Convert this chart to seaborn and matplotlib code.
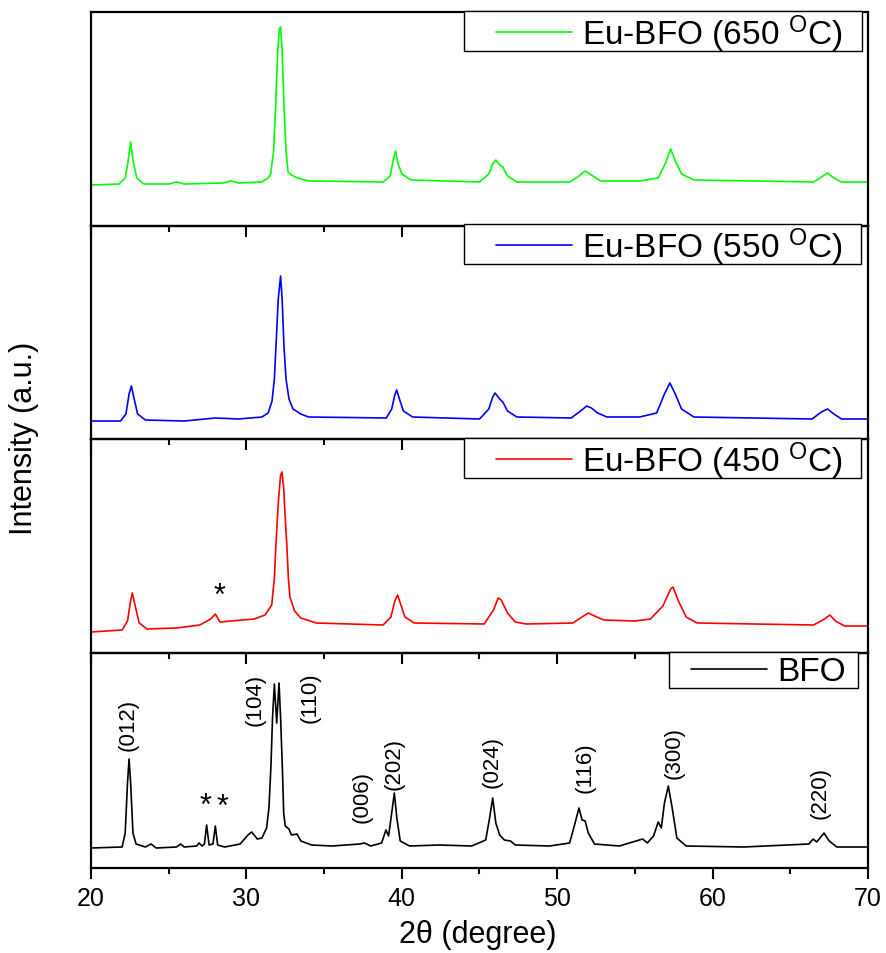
import matplotlib
matplotlib.use("Agg")
import matplotlib.pyplot as plt
import numpy as np
import pandas as pd
import seaborn as sns
from matplotlib.patches import Rectangle
from matplotlib.ticker import MultipleLocator, NullLocator

# ---------------- data (arbitrary intensity units) ----------------
x_650 = [20.0, 21.8, 22.2, 22.38, 22.55, 22.72, 22.95, 23.4, 25.0, 25.5, 26.0, 28.5, 29.0, 29.5,
         31.0, 31.4, 31.56, 31.75, 31.88, 32.0, 32.12, 32.2, 32.3, 32.42, 32.55, 32.68, 32.9,
         33.3, 34.0, 38.8, 39.25, 39.45, 39.6, 39.75, 40.0, 40.6, 45.0, 45.6, 45.85, 46.05, 46.3,
         46.5, 46.8, 47.4, 50.8, 51.4, 51.8, 52.2, 52.8, 55.3, 56.5, 57.0, 57.3, 57.6, 58.0, 58.8,
         66.5, 67.0, 67.4, 67.8, 68.3, 70.0]
y_650 = [41, 42, 48, 64, 84, 64, 48, 42, 42, 44, 42, 43, 45, 43,
         44, 48, 52, 75, 120, 170, 197, 199, 175, 120, 75, 54, 51,
         48, 45, 44, 50, 66, 75, 63, 52, 46, 44, 52, 62, 66, 61,
         59, 50, 44, 44, 50, 55, 51, 45, 45, 48, 64, 77, 65, 52, 46,
         44, 49, 53, 48, 44, 44]

x_550 = [20.0, 21.9, 22.25, 22.45, 22.6, 22.75, 23.0, 23.5, 26.0, 28.0, 29.5, 31.0, 31.4, 31.65,
         31.8, 31.9, 32.05, 32.2, 32.3, 32.42, 32.55, 32.74, 33.0, 33.5, 34.0, 39.0, 39.35, 39.55,
         39.67, 39.85, 40.1, 40.7, 45.0, 45.6, 45.85, 46.0, 46.3, 46.5, 46.8, 47.4, 50.9, 51.5,
         51.9, 52.2, 52.6, 53.2, 55.3, 56.4, 56.9, 57.25, 57.6, 58.0, 58.8, 66.4, 67.0, 67.4,
         67.8, 68.3, 70.0]
y_550 = [18, 18, 25, 45, 53, 42, 25, 19, 18, 21, 20, 22, 26, 38,
         60, 92, 140, 163, 140, 92, 60, 40, 30, 25, 22, 21, 30, 44,
         49, 40, 28, 22, 20, 30, 42, 46, 40, 37, 28, 22, 21, 28,
         33, 31, 26, 22, 22, 26, 45, 56, 45, 30, 22, 20, 27, 30,
         25, 20, 20]

x_450 = [20.0, 22.0, 22.35, 22.55, 22.66, 22.8, 23.1, 23.6, 25.5, 27.0, 27.7, 28.0, 28.3, 29.0,
         30.5, 31.2, 31.63, 31.8, 31.9, 32.05, 32.2, 32.29, 32.4, 32.5, 32.6, 32.7, 32.8, 33.1,
         33.5, 34.5, 38.8, 39.3, 39.55, 39.73, 39.9, 40.2, 40.8, 45.3, 45.9, 46.2, 46.4, 46.8,
         47.3, 48.0, 51.0, 51.7, 52.0, 52.4, 53.0, 55.0, 56.0, 56.8, 57.3, 57.45, 57.8, 58.3,
         59.0, 66.5, 67.2, 67.55, 67.9, 68.5, 70.0]
y_450 = [21, 23, 32, 52, 60, 50, 30, 24, 25, 28, 34, 39, 31, 32,
         34, 38, 48, 75, 108, 150, 178, 181, 165, 135, 108, 75, 56, 42,
         35, 30, 28, 36, 52, 58, 50, 36, 30, 29, 43, 55, 53, 40,
         31, 29, 30, 37, 40, 37, 33, 32, 34, 47, 64, 66, 52, 36,
         30, 28, 34, 38, 32, 27, 27]

x_bfo = [20.0, 22.0, 22.2, 22.35, 22.45, 22.55, 22.7, 22.9, 23.5, 23.86, 24.2, 25.5, 25.77, 26.0,
         26.8, 26.95, 27.15, 27.3, 27.44, 27.6, 27.85, 28.0, 28.15, 28.6, 29.6, 30.1, 30.34, 30.7,
         31.0, 31.3, 31.45, 31.58, 31.68, 31.8, 31.95, 32.1, 32.2, 32.31, 32.4, 32.5, 32.74, 32.9,
         33.26, 33.5, 34.2, 35.5, 37.3, 37.6, 38.0, 38.7, 38.98, 39.15, 39.35, 39.52, 39.68, 39.9,
         40.5, 42.4, 44.5, 45.4, 45.65, 45.85, 46.05, 46.3, 46.6, 47.0, 47.3, 49.5, 50.8, 51.15,
         51.4, 51.6, 51.8, 52.0, 52.4, 54.0, 55.5, 55.8, 56.2, 56.5, 56.7, 56.9, 57.15, 57.4,
         57.7, 58.3, 62.0, 66.2, 66.47, 66.7, 67.17, 67.5, 68.0, 70.0]
y_bfo = [20, 21, 35, 85, 109, 85, 35, 24, 21, 24, 20, 21, 24, 21,
         22, 25, 22, 24, 43, 23, 24, 42, 23, 21, 24, 33, 36, 29,
         30, 40, 60, 102, 150, 184, 145, 185, 150, 102, 55, 42, 39, 33,
         34, 27, 23, 22, 24, 25, 22, 25, 38, 32, 55, 75, 50, 27,
         22, 23, 22, 28, 50, 70, 45, 33, 28, 27, 23, 22, 25, 45,
         60, 48, 47, 35, 24, 22, 29, 25, 32, 46, 40, 65, 82, 60,
         30, 22, 21, 24, 29, 26, 35, 27, 21, 21]

series_labels = ["Eu-BFO (650 $^{\\mathrm{O}}$C)", "Eu-BFO (550 $^{\\mathrm{O}}$C)",
                 "Eu-BFO (450 $^{\\mathrm{O}}$C)", "BFO"]
series_colors = ["#00ff00", "#0000ff", "#ff0000", "#000000"]

hkl_labels = ["(012)", "(104)", "(110)", "(006)", "(202)", "(024)", "(116)", "(300)", "(220)"]
hkl_x = [22.38, 30.55, 34.09, 37.44, 39.5, 45.8, 51.79, 57.52, 66.91]
hkl_y = [144, 169, 171, 72, 105, 107, 101, 116, 76]

x_ticks = [20, 30, 40, 50, 60, 70]

# ---------------- style ----------------
sns.set_theme(style="ticks")
plt.rcParams["font.family"] = ["Liberation Sans", "DejaVu Sans"]
plt.rcParams["mathtext.fontset"] = "custom"
plt.rcParams["mathtext.rm"] = "Liberation Sans"
plt.rcParams["mathtext.it"] = "Liberation Sans:italic"
plt.rcParams["text.color"] = "black"
plt.rcParams["axes.labelcolor"] = "black"
plt.rcParams["xtick.color"] = "black"
plt.rcParams["xtick.labelcolor"] = "black"

fig = plt.figure(figsize=(8.87, 9.54), dpi=100)
W, H = 887, 954
left, right = 91, 868
bounds = [(13, 227), (227, 440), (440, 654), (654, 869)]
# legend boxes in pixels: (x0, y0, x1, y1) and right end of the legend text
legend_boxes = [(464, 12, 862, 52), (464, 225, 861, 265), (464, 439, 861, 479), (669, 653, 858, 689)]
legend_text_right = [843, 843, 843, 846]

xs = [x_650, x_550, x_450, x_bfo]
ys = [y_650, y_550, y_450, y_bfo]
axes = []
for i, (top, bot) in enumerate(bounds):
    ax = fig.add_axes([left / W, 1 - bot / H, (right - left) / W, (bot - top) / H])
    ax.patch.set_alpha(0)
    df = pd.DataFrame({"two_theta": xs[i], "intensity": ys[i]})
    sns.lineplot(data=df, x="two_theta", y="intensity", ax=ax, color=series_colors[i],
                 linewidth=1.2, label=series_labels[i], estimator=None, sort=False)
    ax.set_xlim(20, 70)
    ax.set_ylim(0, bot - top)
    ax.set_xlabel("")
    ax.set_ylabel("")
    ax.yaxis.set_major_locator(NullLocator())
    ax.xaxis.set_major_locator(MultipleLocator(10))
    ax.xaxis.set_minor_locator(MultipleLocator(5))
    ax.tick_params(axis="x", which="major", direction="out", length=8, width=1.5,
                   labelsize=18, pad=5, color="black", labelcolor="black")
    ax.tick_params(axis="x", which="minor", direction="out", length=4, width=1.5, color="black")
    for s in ax.spines.values():
        s.set_linewidth(1.6)
        s.set_color("black")
    if i < 3:
        ax.tick_params(axis="x", labelbottom=False)
    else:
        ax.set_xticks(x_ticks)

    bx0, by0, bx1, by1 = legend_boxes[i]
    rect = Rectangle((bx0 / W, 1 - by1 / H), (bx1 - bx0) / W, (by1 - by0) / H,
                     transform=fig.transFigure, facecolor="white", edgecolor="black",
                     linewidth=1.0, zorder=4, clip_on=False)
    ax.add_patch(rect)
    cy = (by0 + by1) / 2 + 2
    anchor = ((legend_text_right[i] - left) / (right - left), (bot - cy) / (bot - top))
    leg = ax.legend(loc="center right", bbox_to_anchor=anchor, fontsize=24,
                    handlelength=2.3, handletextpad=0.3, borderpad=0.0,
                    frameon=False, borderaxespad=0)
    leg.set_zorder(5)
    axes.append(ax)

# annotations
ax_b = axes[3]
for lab, hx, hy in zip(hkl_labels, hkl_x, hkl_y):
    ax_b.text(hx, hy, lab, rotation=90, ha="center", va="center", fontsize=16, color="black")
ax_b.text(27.34, 62, "*", ha="center", va="center", fontsize=22, color="black")
ax_b.text(28.49, 61, "*", ha="center", va="center", fontsize=22, color="black")
axes[2].text(28.3, 57, "*", ha="center", va="center", fontsize=22, color="black")

fig.text(478 / W, 1 - 935 / H, "2\u03b8 (degree)", ha="center", va="center", fontsize=22)
fig.text(24 / W, 1 - 438 / H, "Intensity (a.u.)", ha="center", va="center",
         rotation=90, fontsize=22)

fig.savefig("out.png", dpi=100)
